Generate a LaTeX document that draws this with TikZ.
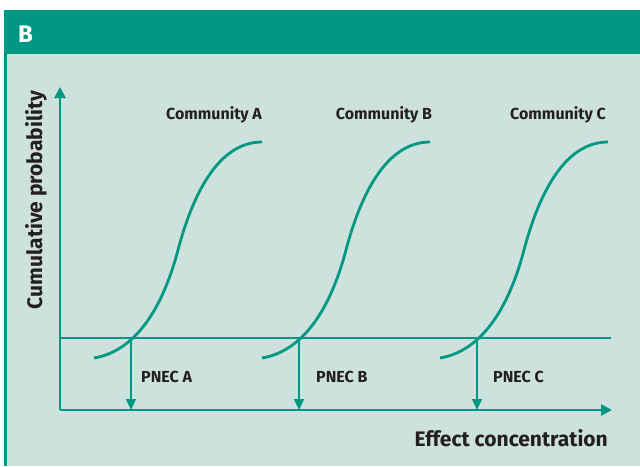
\documentclass[tikz,border=0pt]{standalone}
\usepackage{fontspec}
\setmainfont{Fira Sans}
\usetikzlibrary{arrows.meta}
\definecolor{teal1}{HTML}{009882}
\definecolor{panel}{HTML}{CEE2DD}
\definecolor{ink}{HTML}{231F20}
\tikzset{
  axis/.style={draw=teal1, line width=2.6pt},
  curve/.style={draw=teal1, line width=2.8pt},
  thresh/.style={draw=teal1, line width=1.5pt},
  drop/.style={draw=teal1, line width=1.3pt, -{Triangle[width=10pt,length=11pt]}},
  lbl/.style={text=ink, font=\bfseries\fontsize{16}{16}\selectfont, inner sep=0pt},
  axlbl/.style={text=ink, font=\bfseries\fontsize{21}{21}\selectfont, inner sep=0pt}
}
\newcommand{\scurve}[1]{%
  \draw[curve] (94+#1,358) .. controls (130+#1,352) and (160+#1,318) .. (178+#1,250)
     .. controls (196+#1,182) and (224+#1,142) .. (262+#1,142);}
\begin{document}
\begin{tikzpicture}[x=1pt,y=-1pt]
\useasboundingbox (0,0) rectangle (640,466);
\fill[white] (0,0) rectangle (640,466);
\fill[panel] (4,54) rectangle (640,466);
\fill[teal1] (4,10) rectangle (640,54);
\fill[teal1] (4,54) rectangle (7,466);
\node[text=white, font=\bfseries\fontsize{24}{24}\selectfont, anchor=west, inner sep=0pt] (hdr) at (18,34) {B};
% axes
\coordinate (o) at (60,410);
\coordinate (ytip) at (60,87);
\coordinate (xtip) at (612,410);
\draw[axis, -{Triangle[width=11pt,length=11pt]}] (o) -- (ytip);
\draw[axis, -{Triangle[width=11pt,length=11pt]}] (o) -- (xtip);
% threshold
\coordinate (t0) at (60,338);
\coordinate (t1) at (611,338);
\draw[thresh] (t0) -- (t1);
% curves
\scurve{0}
\scurve{168}
\scurve{346}
% PNEC arrows
\coordinate (ca) at (131,338); \coordinate (ba) at (131,410);
\coordinate (cb) at (299,338); \coordinate (bb) at (299,410);
\coordinate (cc) at (477,338); \coordinate (bc) at (477,410);
\draw[drop] (ca) -- (ba);
\draw[drop] (cb) -- (bb);
\draw[drop] (cc) -- (bc);
% labels
\node[lbl, anchor=west] (pa) at (141,377) {PNEC A};
\node[lbl, anchor=west] (pb) at (316,377) {PNEC B};
\node[lbl, anchor=west] (pc) at (493,377) {PNEC C};
\node[lbl] (la) at (214,115) {Community A};
\node[lbl] (lb) at (384,115) {Community B};
\node[lbl] (lc) at (558,115) {Community C};
\node[axlbl, anchor=east] (xl) at (608,438) {Effect concentration};
\node[axlbl, rotate=90] (yl) at (36,200) {Cumulative probability};
\end{tikzpicture}
\end{document}
